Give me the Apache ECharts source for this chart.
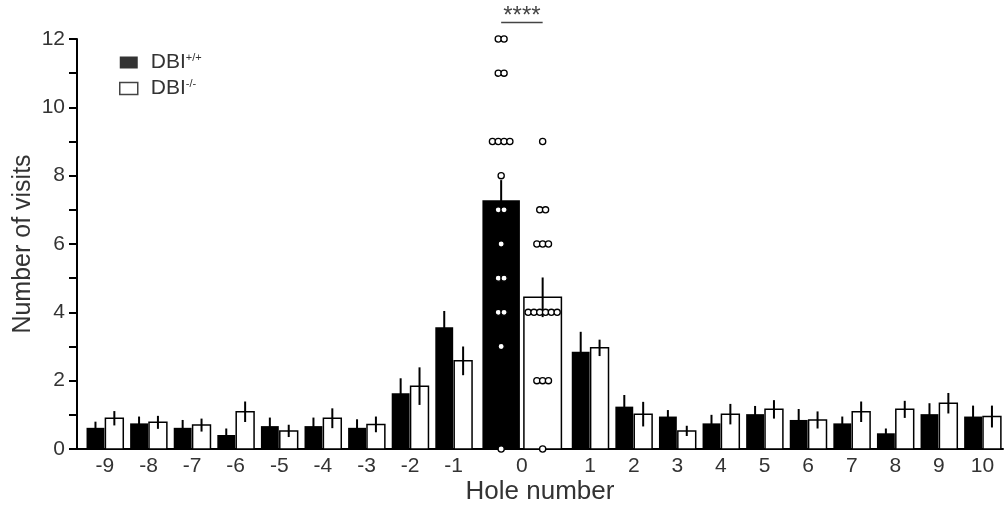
<!DOCTYPE html>
<html>
<head>
<meta charset="utf-8">
<script src="https://cdn.jsdelivr.net/npm/echarts@6/dist/echarts.min.js"></script>
<style>
  html, body { margin: 0; padding: 0; background: #fff; }
  #chart { width: 1005px; height: 508px; }
</style>
</head>
<body>
<div id="chart"></div>
<script>
// hole numbers and group means / SEM
const holes = [-9, -8, -7, -6, -5, -4, -3, -2, -1, 0, 1, 2, 3, 4, 5, 6, 7, 8, 9, 10];
const wtMean = [0.62, 0.75, 0.62, 0.41, 0.67, 0.67, 0.62, 1.63, 3.56, 7.28, 2.85, 1.24, 0.95, 0.75, 1.02, 0.85, 0.75, 0.46, 1.02, 0.95];
const wtSem = [0.18, 0.20, 0.23, 0.19, 0.25, 0.25, 0.25, 0.44, 0.48, 0.59, 0.58, 0.34, 0.19, 0.25, 0.24, 0.32, 0.20, 0.14, 0.32, 0.32];
const koMean = [0.90, 0.78, 0.70, 1.09, 0.53, 0.90, 0.72, 1.84, 2.58, 4.44, 2.96, 1.02, 0.53, 1.02, 1.16, 0.85, 1.09, 1.16, 1.34, 0.95];
const koSem = [0.21, 0.19, 0.19, 0.30, 0.18, 0.29, 0.23, 0.55, 0.42, 0.58, 0.24, 0.36, 0.15, 0.30, 0.27, 0.25, 0.30, 0.25, 0.30, 0.32];
// individual animals at hole 0
const wtHole0 = [12, 12, 11, 11, 9, 9, 9, 9, 8, 7, 7, 6, 5, 5, 4, 4, 3, 0];
const koHole0 = [9, 7, 7, 6, 6, 6, 4, 4, 4, 4, 4, 4, 2, 2, 2, 0];
const yTicks = [0, 2, 4, 6, 8, 10, 12];

const FONT = 'Liberation Sans, Arial, sans-serif';
const TXT = '#333';

// hole 0 gets extra room on both sides
const gap0 = 0.565;
const xPos = holes.map((h, i) => i + (h >= 0 ? gap0 : 0) + (h >= 1 ? gap0 : 0));

function barGeom(api, x, side, wide) {
  const p = api.size([1, 0])[0];
  const w = wide ? 0.86 * p : 0.41 * p;
  const g = wide ? 2 : 0.5;
  const cx = api.coord([x, 0])[0];
  const left = side < 0 ? cx - g - w : cx + g;
  return { left: left, w: w, mid: left + w / 2 };
}

function renderBar(fill) {
  return function (params, api) {
    const x = api.value(0), m = api.value(1), s = api.value(2);
    const side = api.value(3), wide = api.value(4);
    const b = barGeom(api, x, side, wide);
    const top = api.coord([x, m])[1];
    const base = api.coord([x, 0])[1];
    const eTop = api.coord([x, m + s])[1];
    const eBot = api.coord([x, m - s])[1];
    return {
      type: 'group',
      children: [
        { type: 'rect', shape: { x: b.left, y: top, width: b.w, height: base - top },
          style: { fill: fill, stroke: '#000', lineWidth: fill === '#000' ? 0 : 1.5 } },
        { type: 'line', shape: { x1: b.mid, y1: eTop, x2: b.mid, y2: eBot },
          style: { stroke: '#000', lineWidth: 2 } }
      ]
    };
  };
}

function barData(means, sems, side) {
  return holes.map((h, i) => [xPos[i], means[i], sems[i], side, h === 0 ? 1 : 0]);
}

function pointData(vals, side) {
  const x0 = xPos[holes.indexOf(0)];
  const out = [];
  const counts = {};
  vals.forEach(v => { counts[v] = (counts[v] || 0) + 1; });
  const seen = {};
  vals.forEach(v => {
    const k = seen[v] || 0;
    seen[v] = k + 1;
    out.push([x0, v, k, counts[v], side]);
  });
  return out;
}

function renderPoint(params, api) {
  const x = api.value(0), v = api.value(1), k = api.value(2), n = api.value(3), side = api.value(4);
  const b = barGeom(api, x, side, 1);
  const cy = api.coord([x, v])[1];
  const cx = b.mid + (k - (n - 1) / 2) * 5.8;
  return { type: 'circle', shape: { cx: cx, cy: cy, r: 3.1 },
    style: { fill: '#fff', stroke: '#000', lineWidth: 1.3 } };
}

function renderSig(params, api) {
  const x = api.value(0);
  const a = barGeom(api, x, -1, 1), b = barGeom(api, x, 1, 1);
  const y = api.coord([x, 12])[1] - 16.5;
  return {
    type: 'group',
    children: [
      { type: 'line', shape: { x1: a.mid, y1: y, x2: b.mid, y2: y }, style: { stroke: '#444', lineWidth: 1.5 } },
      { type: 'text', style: { x: (a.mid + b.mid) / 2, y: y + 6, text: '****', fill: '#444',
        font: '24px ' + FONT, align: 'center', verticalAlign: 'bottom' } }
    ]
  };
}

const chart = echarts.init(document.getElementById('chart'));
chart.setOption({
  animation: false,
  textStyle: { fontFamily: FONT },
  grid: { left: 77, right: 2, top: 39, bottom: 59, containLabel: false, outerBoundsMode: 'none' },
  legend: {
    orient: 'vertical', left: 114, top: 47, itemWidth: 18, itemHeight: 12, itemGap: 5,
    textStyle: { fontSize: 21, color: TXT, fontFamily: FONT, padding: [0, 0, 0, 8],
      rich: { s: { fontSize: 11, color: TXT, verticalAlign: 'top', padding: [0, 0, 9, 0] } } },
    formatter: name => name.replace(/^DBI(.*)$/, 'DBI{s|$1}'),
    data: [
      { name: 'DBI+/+', icon: 'rect', itemStyle: { color: '#333', borderWidth: 0 } },
      { name: 'DBI-/-', icon: 'rect', itemStyle: { color: '#fff', borderColor: '#444', borderWidth: 1.5 } }
    ]
  },
  xAxis: {
    type: 'value', min: -0.64, max: 20.6,
    name: 'Hole number', nameLocation: 'middle', nameGap: 30, nameMoveOverlap: false,
    nameTextStyle: { fontSize: 26, color: TXT },
    axisLine: { onZero: false, lineStyle: { color: '#000', width: 2 } },
    axisTick: { show: false },
    splitLine: { show: false },
    axisLabel: {
      customValues: xPos, fontSize: 21, color: TXT, margin: 7,
      formatter: v => { const i = xPos.findIndex(p => Math.abs(p - v) < 1e-6); return i < 0 ? '' : String(holes[i]); }
    }
  },
  yAxis: {
    type: 'value', min: 0, max: 12, interval: 1,
    name: 'Number of visits', nameLocation: 'middle', nameGap: 41, nameMoveOverlap: false,
    nameTextStyle: { fontSize: 25, color: TXT },
    axisLine: { show: true, onZero: false, lineStyle: { color: '#000', width: 2 } },
    axisTick: { show: true, length: 8, lineStyle: { color: '#000', width: 2 } },
    splitLine: { show: false },
    axisLabel: { fontSize: 21, color: TXT, margin: 12,
      formatter: v => yTicks.indexOf(v) >= 0 ? String(v) : '' }
  },
  series: [
    { name: 'DBI+/+', type: 'custom', renderItem: renderBar('#000'), data: barData(wtMean, wtSem, -1), z: 2 },
    { name: 'DBI-/-', type: 'custom', renderItem: renderBar('#fff'), data: barData(koMean, koSem, 1), z: 2 },
    { name: 'pts', type: 'custom', renderItem: renderPoint, z: 3,
      data: pointData(wtHole0, -1).concat(pointData(koHole0, 1)) },
    { name: 'sig', type: 'custom', renderItem: renderSig, z: 3, data: [[xPos[holes.indexOf(0)]]] }
  ]
});
</script>
</body>
</html>
